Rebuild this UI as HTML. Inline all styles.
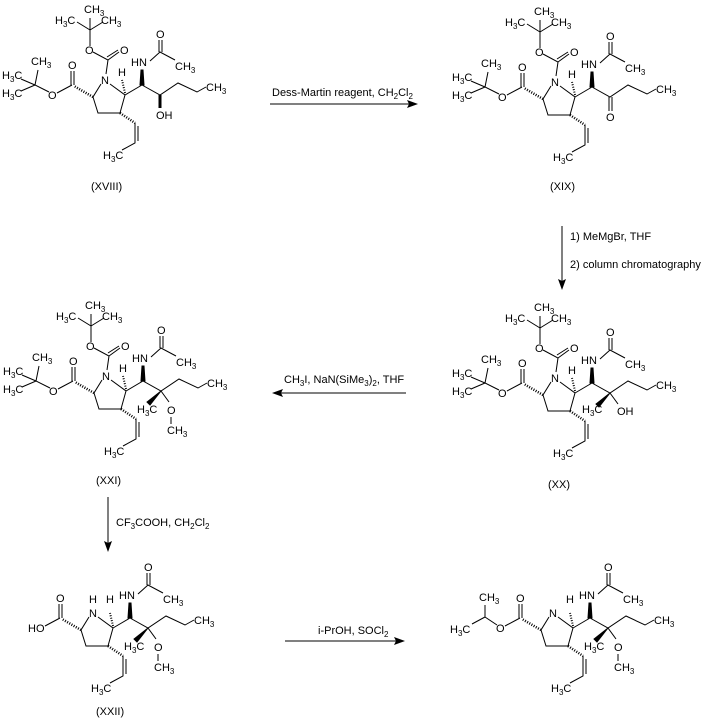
<!DOCTYPE html>
<html><head><meta charset="utf-8"><style>
html,body{margin:0;padding:0;background:#fff;}
svg{display:block;}
text{font-family:"Liberation Sans",Arial,sans-serif;font-size:11px;fill:#000;}
.s{font-size:8px;}
</style></head><body>
<svg width="701" height="720" viewBox="0 0 701 720" xmlns="http://www.w3.org/2000/svg">
<defs>
<g id="core" stroke="#000" stroke-width="1" fill="none">
<path d="M101,84 L93,97 L98,113 L120,113 L125,95 L110,84"/>
<path d="M125,95 L142,85"/>
<polygon points="140,85 144,85 143,70 141,70" fill="#000"/>
<path d="M150,61 L160,52 L175,60"/>
<path d="M159,52 L159,40 M162,52 L162,40"/>
<path d="M142,85 L160,95 L178,83 L197,92 L206,87"/>
<path d="M135,123 L135,143 L122,150 M138,126 L138,141"/>
<path d="M120,113 L135,123" stroke-width="2.5" stroke-dasharray="1,1.5"/>
<path d="M93,97 L74,86" stroke-width="2.5" stroke-dasharray="1,1.5"/>
<path d="M72,85 L57,93 M71,85 L71,71 M74,85 L74,71"/>
<path d="M125,93 L122,80" stroke-width="2" stroke-dasharray="1,1.5"/>
</g>
<g id="boc" stroke="#000" stroke-width="1" fill="none">
<path d="M106,74 L108,60 L93,52 M108,60 L119,52 M107,57 L118,50"/>
<path d="M90,46 L90,30 L77,22 M90,30 L103,22 M90,30 L90,18"/>
</g>
<g id="tbu" stroke="#000" stroke-width="1" fill="none">
<path d="M49,92 L35,85 L38,70 M35,85 L21,79 M35,85 L21,91"/>
</g>
<g id="quat" stroke="#000" stroke-width="1" fill="none">
<polygon points="160,95 146,106 149,109" fill="#000"/>
<path d="M160,95 L168,106"/>
</g>
</defs>

<!-- XVIII -->
<g>
<use href="#core"/><use href="#boc"/><use href="#tbu"/>
<path d="M160,95 L160,108" stroke="#000" stroke-width="3"/>
<text x="84" y="13">CH<tspan class="s" dy="3">3</tspan></text>
<text x="55" y="24">H<tspan class="s" dy="3">3</tspan><tspan dy="-3">C</tspan></text>
<text x="101" y="24">CH<tspan class="s" dy="3">3</tspan></text>
<text x="85" y="54">O</text><text x="120" y="54">O</text>
<text x="101" y="84">N</text>
<text x="68" y="69">O</text><text x="48" y="99">O</text>
<text x="31" y="65">CH<tspan class="s" dy="3">3</tspan></text>
<text x="2" y="79">H<tspan class="s" dy="3">3</tspan><tspan dy="-3">C</tspan></text>
<text x="2" y="97">H<tspan class="s" dy="3">3</tspan><tspan dy="-3">C</tspan></text>
<text x="118" y="76">H</text><text x="131" y="66">HN</text>
<text x="156" y="38">O</text>
<text x="175" y="70">CH<tspan class="s" dy="3">3</tspan></text>
<text x="206" y="91">CH<tspan class="s" dy="3">3</tspan></text>
<text x="156" y="119">OH</text>
<text x="103" y="159">H<tspan class="s" dy="3">3</tspan><tspan dy="-3">C</tspan></text>
<text x="91" y="190">(XVIII)</text>
</g>

<!-- XIX -->
<g transform="translate(450,2)">
<use href="#core"/><use href="#boc"/><use href="#tbu"/>
<path d="M159,95 L159,109 M162,95 L162,109" stroke="#000" fill="none"/>
<text x="84" y="13">CH<tspan class="s" dy="3">3</tspan></text>
<text x="55" y="24">H<tspan class="s" dy="3">3</tspan><tspan dy="-3">C</tspan></text>
<text x="101" y="24">CH<tspan class="s" dy="3">3</tspan></text>
<text x="85" y="54">O</text><text x="120" y="54">O</text>
<text x="101" y="84">N</text>
<text x="68" y="69">O</text><text x="48" y="99">O</text>
<text x="31" y="65">CH<tspan class="s" dy="3">3</tspan></text>
<text x="2" y="79">H<tspan class="s" dy="3">3</tspan><tspan dy="-3">C</tspan></text>
<text x="2" y="97">H<tspan class="s" dy="3">3</tspan><tspan dy="-3">C</tspan></text>
<text x="118" y="76">H</text><text x="131" y="66">HN</text>
<text x="156" y="38">O</text>
<text x="175" y="70">CH<tspan class="s" dy="3">3</tspan></text>
<text x="206" y="91">CH<tspan class="s" dy="3">3</tspan></text>
<text x="156" y="119">O</text>
<text x="103" y="159">H<tspan class="s" dy="3">3</tspan><tspan dy="-3">C</tspan></text>
<text x="100" y="188">(XIX)</text>
</g>

<!-- XX -->
<g transform="translate(450,298)">
<use href="#core"/><use href="#boc"/><use href="#tbu"/><use href="#quat"/>
<text x="84" y="13">CH<tspan class="s" dy="3">3</tspan></text>
<text x="55" y="24">H<tspan class="s" dy="3">3</tspan><tspan dy="-3">C</tspan></text>
<text x="101" y="24">CH<tspan class="s" dy="3">3</tspan></text>
<text x="85" y="54">O</text><text x="120" y="54">O</text>
<text x="101" y="84">N</text>
<text x="68" y="69">O</text><text x="48" y="99">O</text>
<text x="31" y="65">CH<tspan class="s" dy="3">3</tspan></text>
<text x="2" y="79">H<tspan class="s" dy="3">3</tspan><tspan dy="-3">C</tspan></text>
<text x="2" y="97">H<tspan class="s" dy="3">3</tspan><tspan dy="-3">C</tspan></text>
<text x="118" y="76">H</text><text x="131" y="66">HN</text>
<text x="156" y="38">O</text>
<text x="175" y="70">CH<tspan class="s" dy="3">3</tspan></text>
<text x="206" y="91">CH<tspan class="s" dy="3">3</tspan></text>
<text x="132" y="115">H<tspan class="s" dy="3">3</tspan><tspan dy="-3">C</tspan></text>
<text x="167" y="117">OH</text>
<text x="103" y="159">H<tspan class="s" dy="3">3</tspan><tspan dy="-3">C</tspan></text>
<text x="98" y="190">(XX)</text>
</g>

<!-- XXI -->
<g transform="translate(1,296)">
<use href="#core"/><use href="#boc"/><use href="#tbu"/><use href="#quat"/>
<path d="M170,121 L170,128" stroke="#000"/>
<text x="84" y="13">CH<tspan class="s" dy="3">3</tspan></text>
<text x="55" y="24">H<tspan class="s" dy="3">3</tspan><tspan dy="-3">C</tspan></text>
<text x="101" y="24">CH<tspan class="s" dy="3">3</tspan></text>
<text x="85" y="54">O</text><text x="120" y="54">O</text>
<text x="101" y="84">N</text>
<text x="68" y="69">O</text><text x="48" y="99">O</text>
<text x="31" y="65">CH<tspan class="s" dy="3">3</tspan></text>
<text x="2" y="79">H<tspan class="s" dy="3">3</tspan><tspan dy="-3">C</tspan></text>
<text x="2" y="97">H<tspan class="s" dy="3">3</tspan><tspan dy="-3">C</tspan></text>
<text x="118" y="76">H</text><text x="131" y="66">HN</text>
<text x="156" y="38">O</text>
<text x="175" y="70">CH<tspan class="s" dy="3">3</tspan></text>
<text x="206" y="91">CH<tspan class="s" dy="3">3</tspan></text>
<text x="136" y="117">H<tspan class="s" dy="3">3</tspan><tspan dy="-3">C</tspan></text>
<text x="166" y="118">O</text>
<text x="166" y="138">CH<tspan class="s" dy="3">3</tspan></text>
<text x="103" y="159">H<tspan class="s" dy="3">3</tspan><tspan dy="-3">C</tspan></text>
<text x="95" y="188">(XXI)</text>
</g>

<!-- XXII -->
<g transform="translate(-12,533)">
<use href="#core"/><use href="#quat"/>
<path d="M170,121 L170,128" stroke="#000"/>
<text x="101" y="70">H</text>
<text x="101" y="84">N</text>
<text x="68" y="69">O</text>
<text x="40" y="99">HO</text>
<text x="118" y="70">H</text><text x="131" y="66">HN</text>
<text x="156" y="38">O</text>
<text x="175" y="70">CH<tspan class="s" dy="3">3</tspan></text>
<text x="206" y="91">CH<tspan class="s" dy="3">3</tspan></text>
<text x="136" y="117">H<tspan class="s" dy="3">3</tspan><tspan dy="-3">C</tspan></text>
<text x="166" y="118">O</text>
<text x="166" y="138">CH<tspan class="s" dy="3">3</tspan></text>
<text x="103" y="159">H<tspan class="s" dy="3">3</tspan><tspan dy="-3">C</tspan></text>
<text x="108" y="182">(XXII)</text>
</g>

<!-- final -->
<g transform="translate(448,533)">
<use href="#core"/><use href="#quat"/>
<path d="M170,121 L170,128" stroke="#000"/>
<path d="M49,92 L37,84 L37,72 M37,84 L24,91" stroke="#000" fill="none"/>
<text x="101" y="84">N</text>
<text x="118" y="70">H</text>
<text x="68" y="69">O</text><text x="48" y="99">O</text>
<text x="31" y="68">CH<tspan class="s" dy="3">3</tspan></text>
<text x="2" y="100">H<tspan class="s" dy="3">3</tspan><tspan dy="-3">C</tspan></text>
<text x="131" y="66">HN</text>
<text x="156" y="38">O</text>
<text x="175" y="70">CH<tspan class="s" dy="3">3</tspan></text>
<text x="206" y="91">CH<tspan class="s" dy="3">3</tspan></text>
<text x="136" y="117">H<tspan class="s" dy="3">3</tspan><tspan dy="-3">C</tspan></text>
<text x="166" y="118">O</text>
<text x="166" y="138">CH<tspan class="s" dy="3">3</tspan></text>
<text x="103" y="159">H<tspan class="s" dy="3">3</tspan><tspan dy="-3">C</tspan></text>
</g>

<!-- arrows -->
<g stroke="#000" stroke-width="1" fill="none">
<path d="M270,104 L410,104"/>
<path d="M562,226 L562,283"/>
<path d="M406,393 L278,393"/>
<path d="M108,497 L108,546"/>
<path d="M285,641 L398,641"/>
</g>
<g fill="#000">
<polygon points="418,104 407,100 409,104 407,108"/>
<polygon points="562,290 558,279 562,281 566,279"/>
<polygon points="272,393 283,389 281,393 283,397"/>
<polygon points="108,552 104,541 108,543 112,541"/>
<polygon points="405,641 394,637 396,641 394,645"/>
</g>
<text x="272" y="96">Dess-Martin reagent, CH<tspan class="s" dy="3">2</tspan><tspan dy="-3">Cl</tspan><tspan class="s" dy="3">2</tspan></text>
<text x="570" y="240">1) MeMgBr, THF</text>
<text x="570" y="268">2) column chromatography</text>
<text x="284" y="383">CH<tspan class="s" dy="3">3</tspan><tspan dy="-3">I, NaN(SiMe</tspan><tspan class="s" dy="3">3</tspan><tspan dy="-3">)</tspan><tspan class="s" dy="3">2</tspan><tspan dy="-3">, THF</tspan></text>
<text x="116" y="526">CF<tspan class="s" dy="3">3</tspan><tspan dy="-3">COOH, CH</tspan><tspan class="s" dy="3">2</tspan><tspan dy="-3">Cl</tspan><tspan class="s" dy="3">2</tspan></text>
<text x="318" y="634">i-PrOH, SOCl<tspan class="s" dy="3">2</tspan></text>
</svg>
</body></html>
